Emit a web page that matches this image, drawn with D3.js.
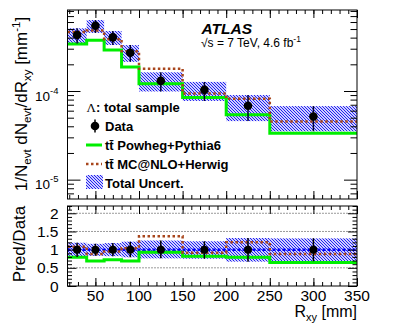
<!DOCTYPE html>
<html>
<head>
<meta charset="utf-8">
<script src="https://cdn.jsdelivr.net/npm/d3@7"></script>
<style>
  body { margin: 0; background: #fff; }
  svg { display: block; font-family: "Liberation Sans", Arial, sans-serif; }
</style>
</head>
<body>
<svg id="chart"></svg>
<script>
// bin edges in Rxy [mm]
const binEdges = [18, 40, 60, 80, 100, 150, 200, 250, 350];
// measured 1/N dN/dRxy
const dataVals = [4.28e-4, 5.45e-4, 4.03e-4, 2.70e-4, 1.30e-4, 1.03e-4, 6.83e-5, 5.16e-5];
// total uncertainty, relative up / down
const uncUp = [1.19, 1.16, 1.18, 1.22, 1.25, 1.23, 1.32, 1.31];
const uncDown = [0.80, 0.83, 0.82, 0.79, 0.76, 0.75, 0.67, 0.68];
// predictions
const powheg = [3.38e-4, 3.73e-4, 2.90e-4, 1.86e-4, 1.21e-4, 8.45e-5, 5.40e-5, 3.33e-5];
const mcatnlo = [4.62e-4, 4.80e-4, 3.83e-4, 2.81e-4, 1.78e-4, 9.40e-5, 8.20e-5, 4.54e-5];

const xTicks = [50, 100, 150, 200, 250, 300, 350];
const yTopLabels = [[1e-5, "-5"], [1e-4, "-4"]];
const ratioTicks = [0, 0.5, 1, 1.5, 2];
const ratioTickLabels = ["0", "0.5", "1", "1.5", "2"];

const width = 420, height = 327;
const left = 67.5, right = 357;
const topY0 = 10, topY1 = 199;
const ratY0 = 206, ratY1 = 286;

const svg = d3.select("#chart").attr("width", width).attr("height", height);

const defs = svg.append("defs");
const pat = defs.append("pattern")
  .attr("id", "hatch")
  .attr("patternUnits", "userSpaceOnUse")
  .attr("width", 3).attr("height", 3);
pat.append("rect").attr("width", 3).attr("height", 3).attr("fill", "#cfcfff");
pat.append("path")
  .attr("d", "M0,0 L3,3 M-1,2 L1,4 M2,-1 L4,1")
  .attr("stroke", "#2222ee").attr("stroke-width", 1);
defs.append("clipPath").attr("id", "clipTop")
  .append("rect").attr("x", left).attr("y", topY0).attr("width", right - left).attr("height", topY1 - topY0);
defs.append("clipPath").attr("id", "clipRat")
  .append("rect").attr("x", left).attr("y", ratY0).attr("width", right - left).attr("height", ratY1 - ratY0);

const x = d3.scaleLinear().domain([18, 350]).range([left, right]);
const yTop = d3.scaleLog().domain([6.05e-6, 8.2e-4]).range([topY1, topY0]);
const yRat = d3.scaleLinear().domain([0, 2.2]).range([ratY1, ratY0]);

const bins = dataVals.map((v, i) => ({
  lo: binEdges[i], hi: binEdges[i + 1], v,
  up: uncUp[i], dn: uncDown[i],
  pw: powheg[i], mc: mcatnlo[i]
}));

const stepLine = (y, acc) => {
  const pts = bins.map(b => [b.lo, acc(b)]);
  pts.push([binEdges[binEdges.length - 1], acc(bins[bins.length - 1])]);
  return d3.line().x(d => x(d[0])).y(d => y(d[1])).curve(d3.curveStepAfter)(pts);
};

const xMinor = d3.range(20, 351, 10);

function frameTicks(g, y0, y1, yScale, yMajor, yMinor, yMajLen, yMinLen, xMajLen, xMinLen) {
  g.append("g").attr("transform", `translate(0,${y1})`)
    .call(d3.axisBottom(x).tickValues(xMinor).tickSize(-xMinLen).tickFormat(""));
  g.append("g").attr("transform", `translate(0,${y1})`)
    .call(d3.axisBottom(x).tickValues(xTicks).tickSize(-xMajLen).tickFormat(""));
  g.append("g").attr("transform", `translate(0,${y0})`)
    .call(d3.axisTop(x).tickValues(xMinor).tickSize(-xMinLen).tickFormat(""));
  g.append("g").attr("transform", `translate(0,${y0})`)
    .call(d3.axisTop(x).tickValues(xTicks).tickSize(-xMajLen).tickFormat(""));
  g.append("g").attr("transform", `translate(${left},0)`)
    .call(d3.axisLeft(yScale).tickValues(yMinor).tickSize(-yMinLen).tickFormat(""));
  g.append("g").attr("transform", `translate(${left},0)`)
    .call(d3.axisLeft(yScale).tickValues(yMajor).tickSize(-yMajLen).tickFormat(""));
  g.append("g").attr("transform", `translate(${right},0)`)
    .call(d3.axisRight(yScale).tickValues(yMinor).tickSize(-yMinLen).tickFormat(""));
  g.append("g").attr("transform", `translate(${right},0)`)
    .call(d3.axisRight(yScale).tickValues(yMajor).tickSize(-yMajLen).tickFormat(""));
  g.selectAll(".domain").remove();
  g.selectAll(".tick line").attr("stroke", "#000").attr("stroke-width", 1);
  g.append("rect").attr("x", left).attr("y", y0)
    .attr("width", right - left).attr("height", y1 - y0)
    .attr("fill", "none").attr("stroke", "#000").attr("stroke-width", 1);
}

// ---------- upper panel ----------
const upper = svg.append("g");
const upperPlot = upper.append("g").attr("clip-path", "url(#clipTop)");

upperPlot.selectAll("rect.unc").data(bins).join("rect")
  .attr("class", "unc")
  .attr("x", d => x(d.lo)).attr("width", d => x(d.hi) - x(d.lo))
  .attr("y", d => yTop(d.v * d.up))
  .attr("height", d => yTop(d.v * d.dn) - yTop(d.v * d.up))
  .attr("fill", "url(#hatch)");

upperPlot.append("path").attr("d", stepLine(yTop, b => b.pw))
  .attr("fill", "none").attr("stroke", "#00ee00").attr("stroke-width", 3);
upperPlot.append("path").attr("d", stepLine(yTop, b => b.mc))
  .attr("fill", "none").attr("stroke", "#a8461c").attr("stroke-width", 2.5)
  .attr("stroke-dasharray", "2.5,2.5");

upperPlot.selectAll("line.err").data(bins).join("line")
  .attr("class", "err")
  .attr("x1", d => x((d.lo + d.hi) / 2)).attr("x2", d => x((d.lo + d.hi) / 2))
  .attr("y1", d => yTop(d.v * d.up)).attr("y2", d => yTop(d.v * d.dn))
  .attr("stroke", "#000033").attr("stroke-width", 1.5);
upperPlot.selectAll("circle").data(bins).join("circle")
  .attr("cx", d => x((d.lo + d.hi) / 2)).attr("cy", d => yTop(d.v))
  .attr("r", 4.3).attr("fill", "#000");

const logTicks = yTop.ticks().filter(t => t >= 6.05e-6 && t <= 8.2e-4);
const majorLog = yTopLabels.map(d => d[0]);
const minorLog = logTicks.filter(t => !majorLog.some(m => Math.abs(m - t) / t < 1e-6));

frameTicks(upper.append("g"), topY0, topY1, yTop, majorLog, minorLog, 13, 6.5, 8, 4);

// log labels 10^-n
const yl = upper.append("g").attr("font-size", 13.5).attr("text-anchor", "end");
yTopLabels.forEach(([v, e]) => {
  const t = yl.append("text").attr("x", left - 9).attr("y", yTop(v) + 9.5);
  t.append("tspan").text("10");
  t.append("tspan").attr("dy", -7).attr("font-size", 9.5).text(e);
});

// y title
const yt = svg.append("text")
  .attr("transform", `translate(27,104) rotate(-90)`)
  .attr("text-anchor", "middle").attr("font-size", 17);
yt.append("tspan").text("1/N");
yt.append("tspan").attr("font-size", 11.5).attr("dy", 4).text("evt");
yt.append("tspan").attr("dy", -4).text(" dN");
yt.append("tspan").attr("font-size", 11.5).attr("dy", 4).text("evt");
yt.append("tspan").attr("dy", -4).text("/dR");
yt.append("tspan").attr("font-size", 11.5).attr("dy", 4).text("xy");
yt.append("tspan").attr("dy", -4).text(" [mm");
yt.append("tspan").attr("font-size", 11.5).attr("dy", -7).text("-1");
yt.append("tspan").attr("dy", 7).text("]");

// ATLAS label
svg.append("text").attr("x", 201.5).attr("y", 34)
  .attr("font-size", 15.5).attr("font-weight", "bold").attr("font-style", "italic")
  .text("ATLAS");
const en = svg.append("text").attr("x", 201).attr("y", 47).attr("font-size", 12);
en.append("tspan").text("\u221As = 7 TeV, 4.6 fb");
en.append("tspan").attr("dy", -5).attr("font-size", 8.5).text("-1");

// legend
const lg = svg.append("g").attr("font-size", 13).attr("font-weight", "bold");
const lt = lg.append("text").attr("x", 86.5).attr("y", 112);
lt.append("tspan").attr("font-family", "'Liberation Serif', serif").attr("font-weight", "normal").text("\u039B");
lt.append("tspan").text(": total sample");

lg.append("line").attr("x1", 95).attr("x2", 95).attr("y1", 119.5).attr("y2", 132.5)
  .attr("stroke", "#000").attr("stroke-width", 1.5);
lg.append("circle").attr("cx", 95).attr("cy", 126).attr("r", 4.3).attr("fill", "#000");
lg.append("text").attr("x", 105).attr("y", 131).text("Data");

lg.append("line").attr("x1", 86).attr("x2", 102).attr("y1", 145).attr("y2", 145)
  .attr("stroke", "#00ee00").attr("stroke-width", 3);
lg.append("text").attr("x", 105).attr("y", 150).text("tt\u0304 Powheg+Pythia6");

lg.append("line").attr("x1", 86).attr("x2", 102).attr("y1", 164).attr("y2", 164)
  .attr("stroke", "#a8461c").attr("stroke-width", 2.5).attr("stroke-dasharray", "2.5,2.5");
lg.append("text").attr("x", 105).attr("y", 169).text("tt\u0304 MC@NLO+Herwig");

lg.append("rect").attr("x", 86).attr("y", 175).attr("width", 17).attr("height", 14)
  .attr("fill", "url(#hatch)");
lg.append("text").attr("x", 105).attr("y", 187.5).text("Total Uncert.");

// ---------- ratio panel ----------
const rat = svg.append("g");
const ratPlot = rat.append("g").attr("clip-path", "url(#clipRat)");

ratPlot.selectAll("line.grid").data([0.5, 1, 1.5, 2]).join("line")
  .attr("class", "grid")
  .attr("x1", left).attr("x2", right)
  .attr("y1", d => yRat(d)).attr("y2", d => yRat(d))
  .attr("stroke", "#000").attr("stroke-width", 0.8).attr("stroke-dasharray", "1,2");

ratPlot.selectAll("rect.unc").data(bins).join("rect")
  .attr("class", "unc")
  .attr("x", d => x(d.lo)).attr("width", d => x(d.hi) - x(d.lo))
  .attr("y", d => yRat(d.up)).attr("height", d => yRat(d.dn) - yRat(d.up))
  .attr("fill", "url(#hatch)");

ratPlot.append("line").attr("x1", left).attr("x2", right)
  .attr("y1", yRat(1)).attr("y2", yRat(1))
  .attr("stroke", "#0000ff").attr("stroke-width", 2.5).attr("stroke-dasharray", "3,2");

ratPlot.append("path").attr("d", stepLine(yRat, b => b.pw / b.v))
  .attr("fill", "none").attr("stroke", "#00ee00").attr("stroke-width", 3);
ratPlot.append("path").attr("d", stepLine(yRat, b => b.mc / b.v))
  .attr("fill", "none").attr("stroke", "#a8461c").attr("stroke-width", 2.5)
  .attr("stroke-dasharray", "2.5,2.5");

ratPlot.selectAll("line.err").data(bins).join("line")
  .attr("class", "err")
  .attr("x1", d => x((d.lo + d.hi) / 2)).attr("x2", d => x((d.lo + d.hi) / 2))
  .attr("y1", d => yRat(d.up)).attr("y2", d => yRat(d.dn))
  .attr("stroke", "#000").attr("stroke-width", 1.5);
ratPlot.selectAll("circle").data(bins).join("circle")
  .attr("cx", d => x((d.lo + d.hi) / 2)).attr("cy", yRat(1))
  .attr("r", 4).attr("fill", "#000");

const ratMinor = d3.range(0, 2.21, 0.1).filter(v => !ratioTicks.some(t => Math.abs(t - v) < 1e-6));
frameTicks(rat.append("g"), ratY0, ratY1, yRat, ratioTicks, ratMinor, 9, 4.5, 8, 4);

rat.append("g").attr("font-size", 15.5).attr("text-anchor", "end")
  .selectAll("text").data(ratioTicks).join("text")
  .attr("x", left - 9).attr("y", d => yRat(d) + 5.5)
  .text((d, i) => ratioTickLabels[i]);

rat.append("g").attr("font-size", 15.5).attr("text-anchor", "middle")
  .selectAll("text").data(xTicks).join("text")
  .attr("x", d => x(d)).attr("y", 300.5)
  .text(d => d);

svg.append("text")
  .attr("transform", `translate(25,244) rotate(-90)`)
  .attr("text-anchor", "middle").attr("font-size", 17)
  .text("Pred/Data");

const xt = svg.append("text").attr("x", 357).attr("y", 317)
  .attr("text-anchor", "end").attr("font-size", 16);
xt.append("tspan").text("R");
xt.append("tspan").attr("font-size", 11).attr("dy", 4).text("xy");
xt.append("tspan").attr("dy", -4).text(" [mm]");
</script>
</body>
</html>
